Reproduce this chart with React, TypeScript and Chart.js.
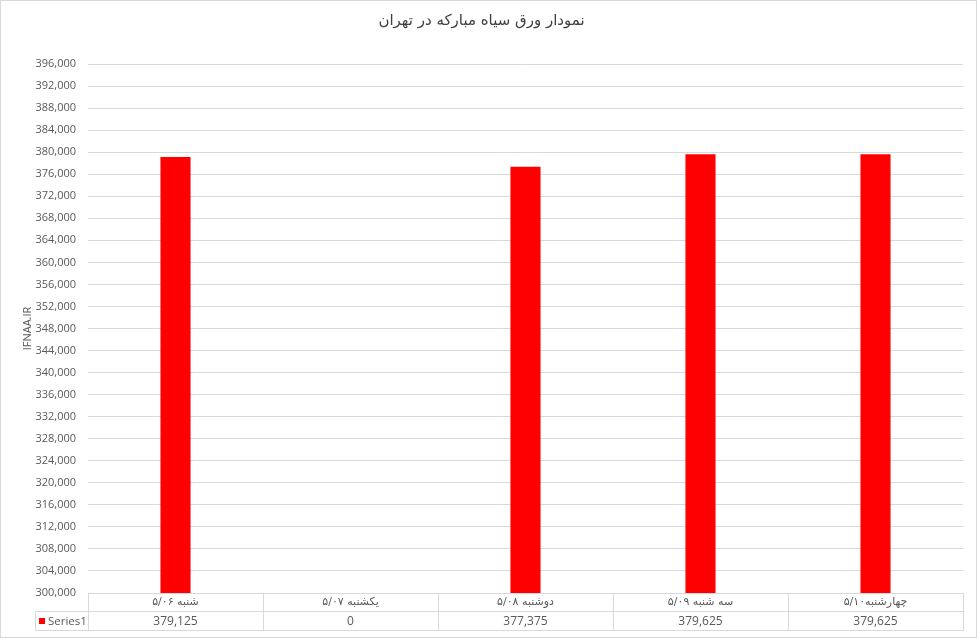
import React, { useEffect, useRef } from "react";
import { Chart, registerables } from "chart.js";

Chart.register(...registerables);

const chartTitle = "نمودار ورق سیاه مبارکه در تهران";
const axisTitle = "IFNAA.IR";
const seriesName = "Series1";
const categories = ["شنبه ۵/۰۶", "یکشنبه ۵/۰۷", "دوشنبه ۵/۰۸", "سه شنبه ۵/۰۹", "چهارشنبه۵/۱۰"];
const values = [379125, 0, 377375, 379625, 379625];
const yMin = 300000;
const yMax = 396000;
const yStep = 4000;

const GRID = "#d9d9d9";
const TEXT = "#595959";
const BAR = "#ff0000";
const LATIN = "'Open Sans', 'DejaVu Sans', sans-serif";
const PERSIAN = "'DejaVu Sans', sans-serif";

const fmt = (v: number) => v.toLocaleString("en-US");

const tablePlugin = {
  id: "dataTable",
  afterDraw(chart: any) {
    const ctx = chart.ctx;
    const area = chart.chartArea;
    const xs = chart.scales.x;
    const n = categories.length;
    const half = (xs.getPixelForValue(1) - xs.getPixelForValue(0)) / 2;
    const y0 = Math.round(area.bottom) + 0.5;
    const y1 = y0 + 18;
    const y2 = y1 + 19;
    const legendLeft = 35.5;
    ctx.save();
    ctx.strokeStyle = GRID;
    ctx.lineWidth = 1;
    ctx.beginPath();
    ctx.moveTo(Math.round(area.left) + 0.5, y0);
    ctx.lineTo(Math.round(area.right) + 0.5, y0);
    ctx.moveTo(legendLeft, y1);
    ctx.lineTo(Math.round(area.right) + 0.5, y1);
    ctx.moveTo(legendLeft, y2);
    ctx.lineTo(Math.round(area.right) + 0.5, y2);
    ctx.moveTo(legendLeft, y1);
    ctx.lineTo(legendLeft, y2);
    for (let i = 0; i <= n; i++) {
      const x = Math.round(xs.getPixelForValue(0) - half + i * 2 * half) + 0.5;
      ctx.moveTo(x, y0);
      ctx.lineTo(x, y2);
    }
    ctx.stroke();
    ctx.fillStyle = TEXT;
    ctx.textAlign = "center";
    ctx.textBaseline = "middle";
    for (let i = 0; i < n; i++) {
      const cx = xs.getPixelForValue(i);
      ctx.font = "11px " + PERSIAN;
      ctx.fillText(categories[i], cx, (y0 + y1) / 2);
      ctx.font = "12px " + LATIN;
      ctx.fillText(fmt(values[i]), cx, (y1 + y2) / 2 + 0.5);
    }
    ctx.fillStyle = BAR;
    ctx.fillRect(39, (y1 + y2) / 2 - 3, 6, 6);
    ctx.fillStyle = TEXT;
    ctx.textAlign = "left";
    ctx.font = "11.5px " + LATIN;
    ctx.fillText(seriesName, 48, (y1 + y2) / 2 + 0.5);
    ctx.strokeStyle = GRID;
    ctx.strokeRect(0.5, 0.5, chart.width - 1, chart.height - 1);
    ctx.restore();
  },
};

export default function App() {
  const ref = useRef<HTMLCanvasElement>(null);
  useEffect(() => {
    if (!ref.current) return;
    const chart = new Chart(ref.current, {
      type: "bar",
      data: {
        labels: categories,
        datasets: [
          {
            label: seriesName,
            data: values,
            backgroundColor: BAR,
            borderWidth: 0,
            barPercentage: 0.172,
            categoryPercentage: 1,
          },
        ],
      },
      options: {
        responsive: false,
        animation: false,
        devicePixelRatio: 1,
        layout: { padding: { left: 0, right: 14, top: 0, bottom: 45 } },
        plugins: {
          legend: { display: false },
          tooltip: { enabled: false },
          title: {
            display: true,
            text: chartTitle,
            color: "#404040",
            font: { family: PERSIAN, size: 15, weight: "normal" },
            padding: { top: 12.5, bottom: 33.5 },
          },
        },
        scales: {
          x: {
            display: false,
            offset: true,
          },
          y: {
            min: yMin,
            max: yMax,
            afterFit(scale: any) {
              scale.width = 88;
            },
            ticks: {
              stepSize: yStep,
              padding: 12,
              color: TEXT,
              font: { family: LATIN, size: 11 },
              callback: (v: any) => fmt(Number(v)),
            },
            grid: { color: GRID, drawTicks: false },
            border: { display: false },
            title: {
              display: true,
              text: axisTitle,
              color: TEXT,
              font: { family: LATIN, size: 11 },
              padding: { top: 21, bottom: 0 },
            },
          },
        },
      },
      plugins: [tablePlugin],
    });
    return () => chart.destroy();
  }, []);
  return (
    <div style={{ position: "absolute", left: 0, top: 0, width: 977, height: 638, background: "#fff" }}>
      <canvas ref={ref} width={977} height={638} />
    </div>
  );
}
